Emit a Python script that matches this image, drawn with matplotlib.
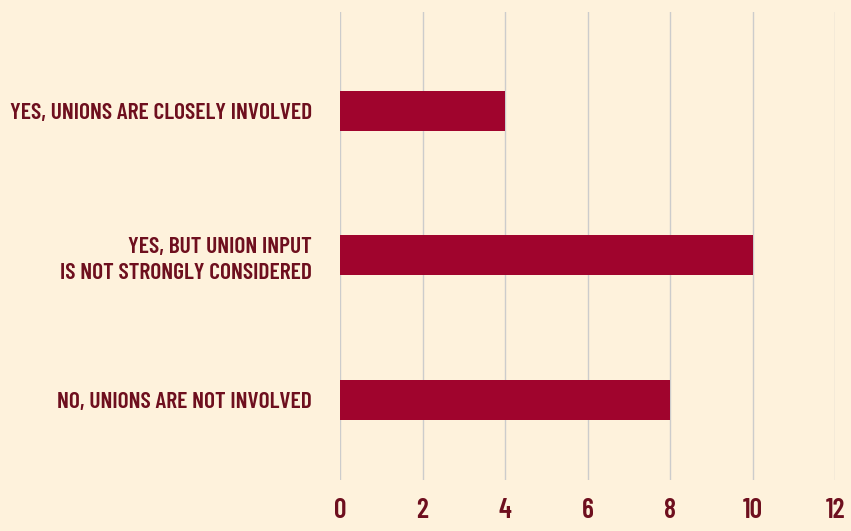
import matplotlib; matplotlib.use("Agg")
import matplotlib.pyplot as plt
import numpy as np

categories = ["YES, UNIONS ARE CLOSELY INVOLVED",
              "YES, BUT UNION INPUT\nIS NOT STRONGLY CONSIDERED",
              "NO, UNIONS ARE NOT INVOLVED"]
values = [4, 10, 8]
xticks = [0, 2, 4, 6, 8, 10, 12]

BG = "#fef2dc"
BAR = "#a0042d"
TXT = "#6e0f1e"

plt.rcParams["font.family"] = ["Barlow Condensed", "DejaVu Sans"]

fig = plt.figure(figsize=(8.51, 5.31), dpi=100, facecolor=BG)
ax = fig.add_axes([340/851, 51/531, 495/851, 468/531], facecolor=BG)

y = np.arange(len(categories))
ax.barh(y, values, height=0.277, color=BAR, zorder=3)
ax.set_ylim(2.554, -0.685)
ax.set_xlim(0, 12)
ax.set_xticks(xticks)
ax.set_xticklabels([str(t) for t in xticks], fontsize=20, fontweight=600, color=TXT)
ax.set_yticks(y)
ax.set_yticklabels(categories, fontsize=17, fontweight=600, color=TXT,
                   linespacing=1.35)
ax.tick_params(axis="both", length=0)
ax.tick_params(axis="y", pad=20)
ax.tick_params(axis="x", pad=13)
ax.grid(axis="x", color="#cccccc", lw=1, zorder=0)
for s in ax.spines.values():
    s.set_visible(False)

plt.savefig("out.png", dpi=100, facecolor=BG)
plt.close()
